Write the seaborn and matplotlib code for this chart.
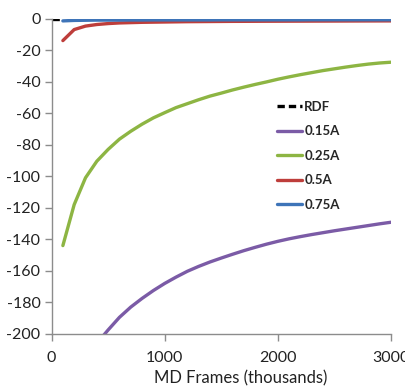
import matplotlib
matplotlib.use("Agg")
import matplotlib.pyplot as plt
import seaborn as sns
import pandas as pd

frames = [100, 200, 300, 400, 500, 600, 700, 800, 900, 1000,
          1100, 1200, 1300, 1400, 1500, 1600, 1700, 1800, 1900, 2000,
          2100, 2200, 2300, 2400, 2500, 2600, 2700, 2800, 2900, 3000]

rdf_x = [0, 100]
rdf = [0, 0]

a015_x = frames[3:]
a015 = [-206, -197.5, -189.5, -183, -177.5, -172.5, -168, -164, -160.3, -157.2,
        -154.4, -151.9, -149.5, -147.2, -145.1, -143.1, -141.3, -139.7, -138.3, -137,
        -135.8, -134.6, -133.5, -132.4, -131.3, -130.2, -129.2]

a025 = [-144, -118, -101, -90.5, -83, -76.5, -71.5, -67, -63, -59.7,
        -56.5, -54, -51.5, -49.2, -47.3, -45.3, -43.5, -41.8, -40.2, -38.5,
        -37, -35.6, -34.3, -33, -31.9, -30.8, -29.8, -28.9, -28.2, -27.7]

a05 = [-14, -7, -4.8, -3.8, -3.2, -2.8, -2.6, -2.4, -2.3, -2.2,
       -2.1, -2.0, -1.95, -1.9, -1.85, -1.8, -1.78, -1.75, -1.72, -1.7,
       -1.68, -1.66, -1.64, -1.62, -1.6, -1.58, -1.56, -1.54, -1.52, -1.5]

a075 = [-1.5, -1.2, -1.1, -1.0, -1.0, -1.0, -0.95, -0.95, -0.9, -0.9,
        -0.9, -0.9, -0.9, -0.9, -0.85, -0.85, -0.85, -0.85, -0.85, -0.85,
        -0.85, -0.85, -0.8, -0.8, -0.8, -0.8, -0.8, -0.8, -0.8, -0.8]

x_ticks = [0, 1000, 2000, 3000]
y_ticks = [0, -20, -40, -60, -80, -100, -120, -140, -160, -180, -200]

sns.set_style("ticks")
plt.rcParams['font.family'] = ['Lato', 'DejaVu Sans']

fig = plt.figure(figsize=(4.06, 3.86), dpi=100)
ax = fig.add_axes([0.127, 0.135, 0.836, 0.817])

lw = 2.4
sns.lineplot(x=rdf_x, y=rdf, ax=ax, color="black", lw=lw, linestyle=(0, (2.2, 1.2)), label="RDF")
sns.lineplot(x=a015_x, y=a015, ax=ax, color="#7B5BA6", lw=lw, label="0.15A")
sns.lineplot(x=frames, y=a025, ax=ax, color="#8DB543", lw=lw, label="0.25A")
sns.lineplot(x=frames, y=a05, ax=ax, color="#BE3E3B", lw=lw, label="0.5A")
sns.lineplot(x=frames, y=a075, ax=ax, color="#3E74B8", lw=lw, label="0.75A")

ax.set_xlim(0, 3000)
ax.set_ylim(-200, 0)
ax.set_xticks(x_ticks)
ax.set_yticks(y_ticks)
ax.set_xticklabels([str(t) for t in x_ticks])
ax.set_yticklabels([str(t) for t in y_ticks])
ax.set_xlabel("MD Frames (thousands)", fontsize=12, color="#222222", va="center")
ax.xaxis.set_label_coords(0.558, -0.14)
ax.set_ylabel("")
for s in ["top", "right"]:
    ax.spines[s].set_visible(False)
for s in ["left", "bottom"]:
    ax.spines[s].set_color("#8C8C8C")
    ax.spines[s].set_linewidth(1.0)
ax.tick_params(axis="both", colors="#8C8C8C", labelcolor="#222222", labelsize=11.5, length=5, width=1.0)
ax.tick_params(axis="x", pad=7)
ax.tick_params(axis="y", pad=3)

leg = ax.legend(loc="upper left", bbox_to_anchor=(0.67, 0.753), bbox_transform=fig.transFigure,
                frameon=False, prop={"weight": "bold", "size": 9.5},
                handlelength=1.9, handletextpad=0.15, labelspacing=0.95, borderaxespad=0)

fig.savefig("out.png", dpi=100)
